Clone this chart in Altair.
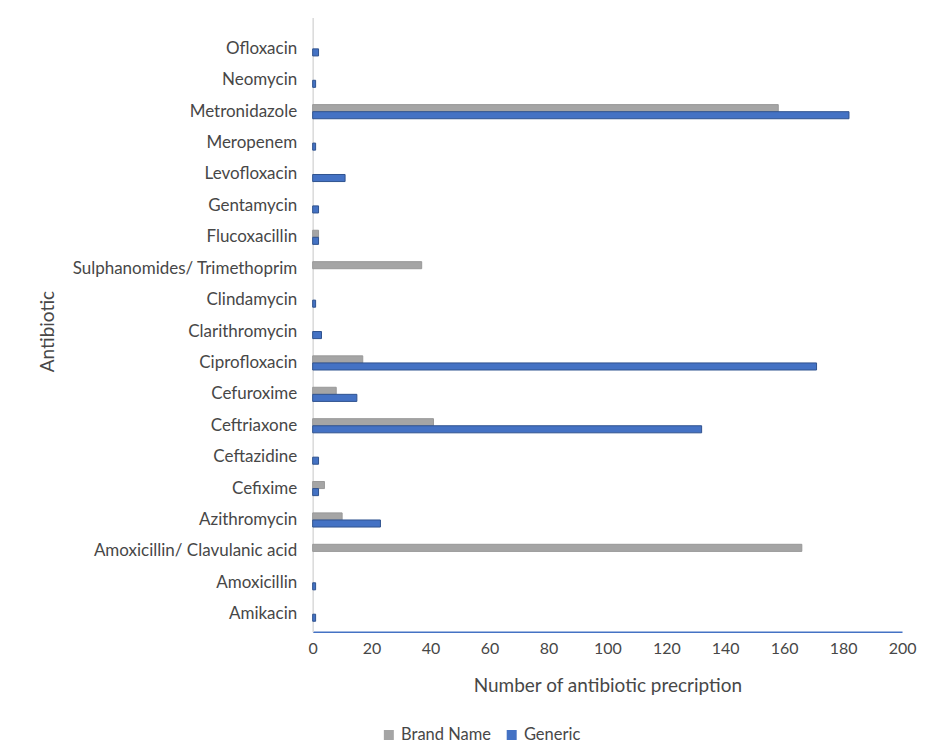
import altair as alt
import pandas as pd

categories = ["Amikacin", "Amoxicillin", "Amoxicillin/ Clavulanic acid", "Azithromycin",
              "Cefixime", "Ceftazidine", "Ceftriaxone", "Cefuroxime", "Ciprofloxacin",
              "Clarithromycin", "Clindamycin", "Sulphanomides/ Trimethoprim", "Flucoxacillin",
              "Gentamycin", "Levofloxacin", "Meropenem", "Metronidazole", "Neomycin", "Ofloxacin"]
brand_name = [0, 0, 166, 10, 4, 0, 41, 8, 17, 0, 0, 37, 2, 0, 0, 0, 158, 0, 0]
generic = [1, 1, 0, 23, 2, 2, 132, 15, 171, 3, 1, 0, 2, 2, 11, 1, 182, 1, 2]
series = ["Brand Name", "Generic"]
x_ticks = [0, 20, 40, 60, 80, 100, 120, 140, 160, 180, 200]

rows = []
for c, b, g in zip(categories, brand_name, generic):
    rows.append({"Antibiotic": c, "Type": series[0], "Count": b})
    rows.append({"Antibiotic": c, "Type": series[1], "Count": g})
df = pd.DataFrame(rows)

font = "Lato"
label_color = "#474747"

chart = alt.Chart(df).transform_filter(
    alt.datum.Count > 0
).mark_bar(strokeWidth=1).encode(
    y=alt.Y("Antibiotic:N", sort=list(reversed(categories)),
            scale=alt.Scale(paddingInner=0.55, paddingOuter=0.555, align=0.7),
            axis=alt.Axis(title="Antibiotic", ticks=False, domainColor="#d9d9d9",
                          domainWidth=1.5, labelFontSize=17, labelColor=label_color,
                          labelFont=font, labelPadding=16, titleFont=font,
                          titleFontSize=19, titleFontWeight="normal", titleColor=label_color,
                          titleAngle=270, titleX=-255, titleY=314, labelLimit=300)),
    yOffset=alt.YOffset("Type:N", sort=series),
    x=alt.X("Count:Q", scale=alt.Scale(domain=[0, 200], nice=False),
            axis=alt.Axis(title="Number of antibiotic precription", values=x_ticks,
                          grid=False, ticks=False, domainColor="#4472C4", domainWidth=1.5,
                          labelFontSize=16, labelColor=label_color, labelFont=font,
                          labelFlush=False, labelPadding=9, titleFont=font, titleFontSize=19,
                          titleFontWeight="normal", titleColor=label_color, titlePadding=20)),
    color=alt.Color("Type:N", sort=series,
                    scale=alt.Scale(domain=series, range=["#A5A5A5", "#4472C4"]),
                    legend=alt.Legend(title=None, orient="none", direction="horizontal",
                                      legendX=68, legendY=710, symbolType="square",
                                      symbolSize=100, symbolStrokeWidth=0,
                                      labelFontSize=16.5, labelFont=font,
                                      labelColor=label_color, columnPadding=12)),
    stroke=alt.Stroke("Type:N", sort=series,
                      scale=alt.Scale(domain=series, range=["#999999", "#2F528F"]),
                      legend=None),
).properties(
    width=590, height=615,
    autosize=alt.AutoSizeParams(type="none"),
    padding={"left": 305, "top": 9, "right": 15, "bottom": 112},
).configure_view(stroke=None)

chart.save("out.html", embed_options={"renderer": "svg", "actions": False})
